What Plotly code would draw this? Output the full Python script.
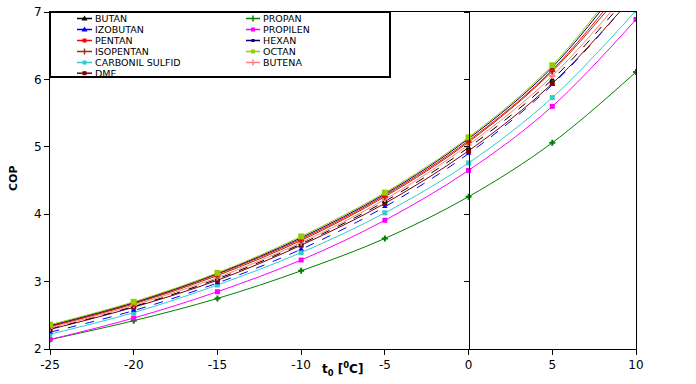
import plotly.graph_objects as go

# ---- data ----
t0 = [-25, -20, -15, -10, -5, 0, 5, 10]
names = ["BUTAN", "PROPAN", "IZOBUTAN", "PROPILEN", "PENTAN", "HEXAN",
         "ISOPENTAN", "OCTAN", "CARBONIL SULFID", "BUTENA", "DME"]
butan = [2.30, 2.63, 3.04, 3.56, 4.19, 4.99, 6.00, 7.38]
propan = [2.14, 2.42, 2.75, 3.16, 3.64, 4.26, 5.06, 6.11]
izobutan = [2.25, 2.57, 2.98, 3.48, 4.11, 4.90, 5.92, 7.28]
propilen = [2.14, 2.46, 2.85, 3.32, 3.91, 4.65, 5.60, 6.89]
pentan = [2.34, 2.68, 3.11, 3.63, 4.28, 5.09, 6.14, 7.62]
hexan = [2.35, 2.69, 3.12, 3.65, 4.30, 5.12, 6.18, 7.70]
isopentan = [2.33, 2.67, 3.09, 3.61, 4.26, 5.07, 6.12, 7.55]
octan = [2.36, 2.70, 3.13, 3.67, 4.32, 5.14, 6.21, 7.75]
carbonil_sulfid = [2.22, 2.54, 2.95, 3.43, 4.02, 4.76, 5.73, 7.02]
butena = [2.31, 2.65, 3.06, 3.58, 4.22, 5.03, 6.05, 7.45]
dme = [2.29, 2.62, 3.02, 3.54, 4.16, 4.94, 5.94, 7.28]
values = [butan, propan, izobutan, propilen, pentan, hexan,
          isopentan, octan, carbonil_sulfid, butena, dme]
x_ticks = [-25, -20, -15, -10, -5, 0, 5, 10]
y_ticks = [2, 3, 4, 5, 6, 7]

# ---- styles ----
colors = ["#000000", "#008000", "#0000FF", "#FF00FF", "#FF0000", "#000080",
          "#993300", "#99CC00", "#33CCCC", "#FF8080", "#800000"]
symbols = ["triangle-up", "cross", "triangle-up", "square", "square", "square",
           "cross", "square", "square", "cross", "square"]
msizes = [5, 5, 5, 5, 4, 3, 5, 6, 5, 5, 5]
dashes = ["dash", "solid", "dash", "solid", "solid", "solid",
          "solid", "solid", "solid", "solid", "solid"]

FONT = "DejaVu Sans, Arial, sans-serif"
L, R, T, B = 50, 60, 12, 35
W, H = 696, 384
PW, PH = W - L - R, H - T - B


def px(x):
    return (x - L) / PW


def py(y):
    return (H - B - y) / PH


fig = go.Figure()
draw_order = [1, 3, 8, 2, 10, 0, 9, 6, 4, 5, 7]
for i in draw_order:
    fig.add_trace(go.Scatter(
        x=t0, y=values[i], name=names[i], mode="lines+markers",
        line=dict(color=colors[i], width=1, shape="spline", dash=dashes[i]),
        marker=dict(color=colors[i], symbol=symbols[i], size=msizes[i],
                    line=dict(width=0)),
        showlegend=False,
    ))

shapes = []
annotations = []
# legend box
shapes.append(dict(type="rect", xref="paper", yref="paper",
                   x0=px(50), x1=px(390), y0=py(77), y1=py(12),
                   line=dict(color="black", width=2), fillcolor="white", layer="above"))
row_y = [18.5, 29.5, 40.5, 51.5, 62.5, 73.2]
col_x = [(77, 92, 94), (246, 260, 262)]
for k, name in enumerate(names):
    col, row = k % 2, k // 2
    x0, x1, xt = col_x[col]
    yy = py(row_y[row])
    c = colors[k]
    shapes.append(dict(type="line", xref="paper", yref="paper",
                       x0=px(x0), x1=px(x1), y0=yy, y1=yy,
                       line=dict(color=c, width=1.5), layer="above"))
    xm = px((x0 + x1) / 2)
    if symbols[k] == "square":
        s = 2 if msizes[k] >= 4 else 1.5
        shapes.append(dict(type="rect", xref="paper", yref="paper",
                           xsizemode="pixel", ysizemode="pixel",
                           xanchor=xm, yanchor=yy, x0=-s, x1=s, y0=-s, y1=s,
                           line=dict(width=0), fillcolor=c, layer="above"))
    elif symbols[k] == "triangle-up":
        shapes.append(dict(type="path", xref="paper", yref="paper",
                           xsizemode="pixel", ysizemode="pixel",
                           xanchor=xm, yanchor=yy, path="M -3,-2 L 3,-2 L 0,3 Z",
                           line=dict(width=0), fillcolor=c, layer="above"))
    else:
        shapes.append(dict(type="line", xref="paper", yref="paper",
                           xsizemode="pixel", ysizemode="pixel",
                           xanchor=xm, yanchor=yy, x0=0, x1=0, y0=-3, y1=3,
                           line=dict(color=c, width=1.5), layer="above"))
    annotations.append(dict(text=name, xref="paper", yref="paper",
                            x=px(xt), y=yy, xanchor="left", yanchor="middle",
                            height=9, borderpad=0, valign="middle", showarrow=False,
                            font=dict(family=FONT, size=9.5, color="black")))

# axis titles
annotations.append(dict(text="<b>COP</b>", xref="paper", yref="paper",
                        x=px(13), y=py(178), textangle=-90, showarrow=False,
                        xanchor="center", yanchor="middle",
                        font=dict(family=FONT, size=11, color="black")))
annotations.append(dict(text="<b>t<sub>0</sub> [<sup>0</sup>C]</b>", xref="paper", yref="paper",
                        x=px(342), y=py(369), showarrow=False,
                        xanchor="center", yanchor="middle",
                        font=dict(family=FONT, size=12, color="black")))

# invisible trace to register the crossing axis at t0 = 0
fig.add_trace(go.Scatter(x=[None], y=[None], yaxis="y2", showlegend=False,
                         hoverinfo="skip"))

fig.update_layout(
    width=W, height=H, autosize=False,
    margin=dict(l=L, r=R, t=T, b=B, autoexpand=False),
    paper_bgcolor="white", plot_bgcolor="white",
    showlegend=False,
    font=dict(family=FONT, size=12, color="black"),
    xaxis=dict(range=[-25, 10], tickvals=x_ticks, ticktext=[str(v) for v in x_ticks],
               showgrid=False, zeroline=False, showline=True, linecolor="black",
               linewidth=1, mirror=True, ticks="outside", ticklen=5,
               tickcolor="black", tickfont=dict(family=FONT, size=12),
               automargin=False),
    yaxis=dict(range=[2, 7], tickvals=y_ticks, ticktext=[str(v) for v in y_ticks],
               showgrid=False, zeroline=False, showline=True, linecolor="black",
               linewidth=1, mirror=True, ticks="outside", ticklen=5,
               tickcolor="black", tickfont=dict(family=FONT, size=12),
               automargin=False),
    yaxis2=dict(range=[2, 7], tickvals=y_ticks, overlaying="y", anchor="free",
                position=25 / 35, side="left", showticklabels=False,
                showgrid=False, zeroline=False, showline=True, linecolor="black",
                linewidth=1, ticks="outside", ticklen=5, tickcolor="black",
                automargin=False),
    shapes=shapes,
    annotations=annotations,
)

fig.write_html("out.html", config={"displayModeBar": False},
               post_script="document.body.style.margin='0px';")
